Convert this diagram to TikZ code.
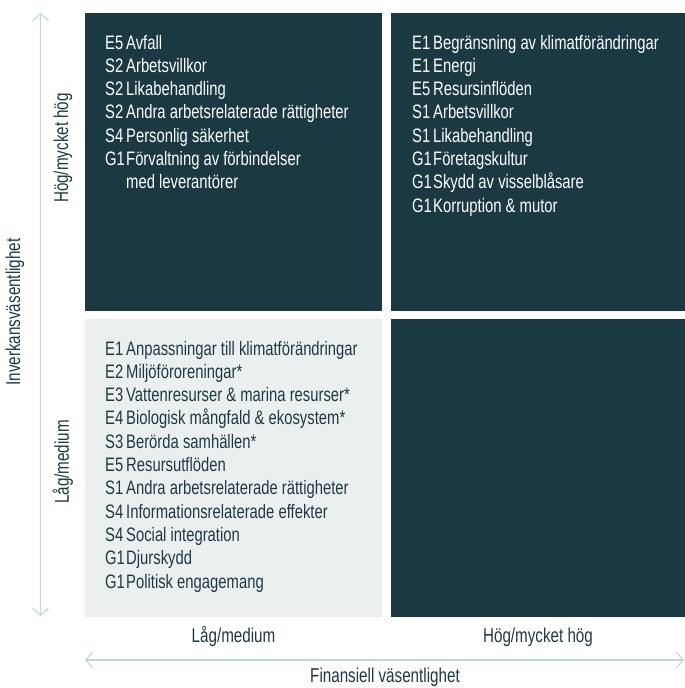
\documentclass[tikz,border=0pt]{standalone}
\usepackage{fontspec}
\setmainfont{Liberation Sans}[FakeStretch=0.76]
\usetikzlibrary{arrows.meta,positioning}
\definecolor{quaddark}{HTML}{1A3943}
\definecolor{quadlight}{HTML}{EBF0EE}
\definecolor{axisgreen}{HTML}{BCDACF}
\definecolor{inktext}{HTML}{1D3A44}
\tikzset{quad/.style={inner sep=0,minimum width=297pt,minimum height=298pt,anchor=north west},
  hiquad/.style={quad,fill=quaddark},loquad/.style={quad,fill=quadlight},
  issues/.style={anchor=base west,inner sep=0,font=\fontsize{19.5}{23.3}\selectfont},
  axislabel/.style={inner sep=0,text=inktext,font=\fontsize{20}{22}\selectfont}}
\newcommand{\code}[1]{\makebox[21pt][l]{#1}}

\begin{document}
\begin{tikzpicture}[x=1pt,y=-1pt]

\useasboundingbox (0,0) rectangle (685,688);

% The four quadrants
\node[hiquad] (hi-lo) at (85,13) {};
\node[hiquad,minimum width=294pt] (hi-hi) at (391,13) {};
\node[loquad] (lo-lo) at (85,319) {};
\node[hiquad,minimum width=294pt] (lo-hi) at (391,319) {};

% Issue lists
\node[issues,text=white] (list-hi-lo) at (105,49) {\begin{tabular}[t]{@{}l@{}}
\code{E5}Avfall\\
\code{S2}Arbetsvillkor\\
\code{S2}Likabehandling\\
\code{S2}Andra arbetsrelaterade rättigheter\\
\code{S4}Personlig säkerhet\\
\code{G1}Förvaltning av förbindelser\\
\code{}med leverantörer
\end{tabular}};
\node[issues,text=white] (list-hi-hi) at (412,49) {\begin{tabular}[t]{@{}l@{}}
\code{E1}Begränsning av klimatförändringar\\
\code{E1}Energi\\
\code{E5}Resursinflöden\\
\code{S1}Arbetsvillkor\\
\code{S1}Likabehandling\\
\code{G1}Företagskultur\\
\code{G1}Skydd av visselblåsare\\
\code{G1}Korruption \& mutor
\end{tabular}};
\node[issues,text=inktext] (list-lo-lo) at (105,355) {\begin{tabular}[t]{@{}l@{}}
\code{E1}Anpassningar till klimatförändringar\\
\code{E2}Miljöföroreningar*\\
\code{E3}Vattenresurser \& marina resurser*\\
\code{E4}Biologisk mångfald \& ekosystem*\\
\code{S3}Berörda samhällen*\\
\code{E5}Resursutflöden\\
\code{S1}Andra arbetsrelaterade rättigheter\\
\code{S4}Informationsrelaterade effekter\\
\code{S4}Social integration\\
\code{G1}Djurskydd\\
\code{G1}Politisk engagemang
\end{tabular}};

% Axes
\coordinate (imp-top) at (40.5,13);
\coordinate (imp-bot) at (40.5,616);
\coordinate (fin-left) at (85,660);
\coordinate (fin-right) at (684,660);
\draw[axisgreen,line width=1.1pt,{Straight Barb[length=7pt,width=16pt]}-{Straight Barb[length=7pt,width=16pt]}] (imp-bot) -- (imp-top);
\draw[axisgreen,line width=1.1pt,{Straight Barb[length=7pt,width=16pt]}-{Straight Barb[length=7pt,width=16pt]}] (fin-left) -- (fin-right);

% Axis labels
\node[axislabel,rotate=90] (imp-title) at (15,312) {Inverkansväsentlighet};
\node[axislabel,rotate=90] (imp-hi) at (63,148) {Hög/mycket hög};
\node[axislabel,rotate=90] (imp-lo) at (63,462) {Låg/medium};
\node[axislabel] (fin-lo) at (233.5,637) {Låg/medium};
\node[axislabel] (fin-hi) at (538,637) {Hög/mycket hög};
\node[axislabel] (fin-title) at (385,677) {Finansiell väsentlighet};

\end{tikzpicture}
\end{document}
